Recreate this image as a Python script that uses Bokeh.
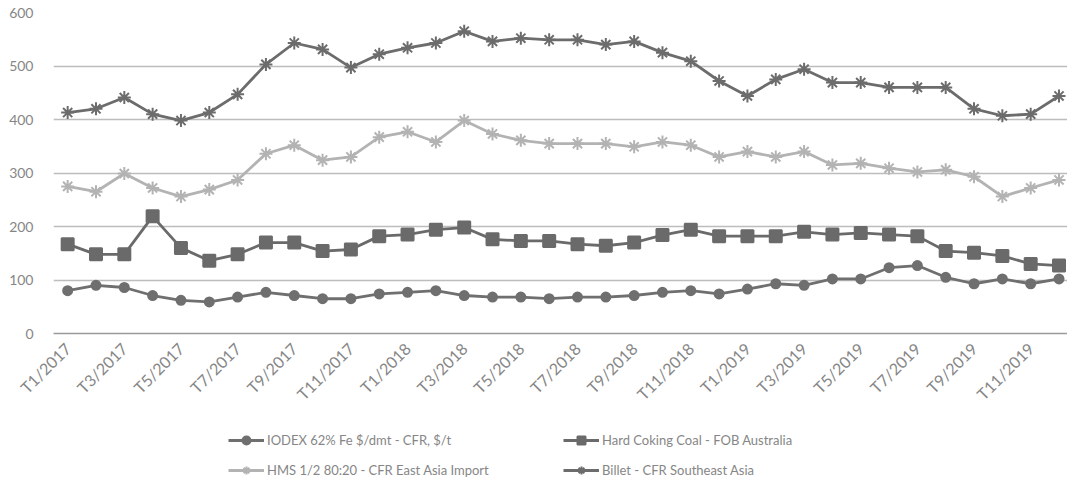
import math
from bokeh.plotting import figure
from bokeh.layouts import column
from bokeh.models import Range1d, FixedTicker, Legend, LegendItem
from bokeh.embed import file_html
from bokeh.resources import INLINE

categories = [
    "T1/2017", "T2/2017", "T3/2017", "T4/2017", "T5/2017", "T6/2017",
    "T7/2017", "T8/2017", "T9/2017", "T10/2017", "T11/2017", "T12/2017",
    "T1/2018", "T2/2018", "T3/2018", "T4/2018", "T5/2018", "T6/2018",
    "T7/2018", "T8/2018", "T9/2018", "T10/2018", "T11/2018", "T12/2018",
    "T1/2019", "T2/2019", "T3/2019", "T4/2019", "T5/2019", "T6/2019",
    "T7/2019", "T8/2019", "T9/2019", "T10/2019", "T11/2019", "T12/2019",
]
tick_labels = {0: "T1/2017", 2: "T3/2017", 4: "T5/2017", 6: "T7/2017", 8: "T9/2017",
               10: "T11/2017", 12: "T1/2018", 14: "T3/2018", 16: "T5/2018",
               18: "T7/2018", 20: "T9/2018", 22: "T11/2018", 24: "T1/2019",
               26: "T3/2019", 28: "T5/2019", 30: "T7/2019", 32: "T9/2019",
               34: "T11/2019"}

iodex = [80, 90, 86, 71, 62, 59, 68, 77, 71, 65, 65, 74,
         77, 80, 71, 68, 68, 65, 68, 68, 71, 77, 80, 74,
         83, 93, 90, 102, 102, 123, 127, 105, 93, 102, 93, 102]
coking_coal = [167, 148, 148, 219, 160, 136, 148, 170, 170, 154, 157, 182,
               185, 194, 198, 176, 173, 173, 167, 164, 170, 184, 194, 182,
               182, 182, 190, 185, 188, 185, 182, 154, 151, 145, 130, 127]
hms = [275, 265, 299, 272, 256, 269, 287, 336, 352, 324, 330, 367,
       377, 358, 398, 373, 361, 355, 355, 355, 349, 358, 352, 330,
       340, 330, 340, 315, 318, 309, 302, 306, 293, 256, 272, 287]
billet = [413, 420, 441, 410, 398, 413, 447, 503, 543, 531, 497, 522,
          534, 543, 565, 546, 552, 549, 549, 540, 546, 525, 509, 472,
          444, 475, 494, 469, 469, 460, 460, 460, 420, 407, 410, 444]

series_names = ["IODEX 62% Fe $/dmt - CFR, $/t", "Hard Coking Coal - FOB Australia",
                "HMS 1/2 80:20 - CFR East Asia Import", "Billet - CFR Southeast Asia"]

x = list(range(len(categories)))
FONT = "Lato"
TXT = "#868686"
W = 1067

p = figure(width=W, height=413, output_backend="svg", toolbar_location=None,
           x_range=Range1d(-0.5, 35.3), y_range=Range1d(0, 600),
           min_border_left=53, min_border_right=0, min_border_top=12,
           min_border_bottom=76)
p.outline_line_color = None
p.background_fill_color = "white"
p.border_fill_color = "white"

p.xgrid.visible = False
p.ygrid.grid_line_color = "#bdbdbd"
p.ygrid.grid_line_width = 1.5
p.yaxis.ticker = FixedTicker(ticks=[0, 100, 200, 300, 400, 500, 600])
p.yaxis.axis_line_color = None
p.yaxis.major_tick_line_color = None
p.yaxis.minor_tick_line_color = None
p.yaxis.major_label_standoff = 14
p.yaxis.major_label_text_font = FONT
p.yaxis.major_label_text_font_size = "14px"
p.yaxis.major_label_text_color = TXT

p.xaxis.ticker = FixedTicker(ticks=sorted(tick_labels.keys()))
p.xaxis.major_label_overrides = tick_labels
p.xaxis.major_label_orientation = math.pi / 4
p.xaxis.axis_line_color = "#9a9a9a"
p.xaxis.axis_line_width = 1.5
p.xaxis.major_tick_line_color = None
p.xaxis.minor_tick_line_color = None
p.xaxis.major_label_standoff = 6
p.xaxis.major_label_text_font = FONT
p.xaxis.major_label_text_font_size = "16px"
p.xaxis.major_label_text_color = TXT

c_iodex = "#6f6f6f"
c_coal = "#6a6a6a"
c_hms = "#b3b3b3"
c_billet = "#6c6c6c"

styles = [
    dict(color=c_iodex, marker="circle", size=9),
    dict(color=c_coal, marker="square", size=12),
    dict(color=c_hms, marker="asterisk", size=13),
    dict(color=c_billet, marker="asterisk", size=13),
]
series = [iodex, coking_coal, hms, billet]

for vals, st in zip(series, styles):
    p.line(x, vals, line_color=st["color"], line_width=2.8)
    p.scatter(x, vals, marker=st["marker"], size=st["size"], fill_color=st["color"],
              line_color=st["color"], line_width=2)

# legend strip below the chart (its renderers hold the series but lie outside its view)
lf = figure(width=W, height=67, output_backend="svg", toolbar_location=None,
            x_range=Range1d(0, 1), y_range=Range1d(-2, -1),
            min_border_left=0, min_border_right=0, min_border_top=0,
            min_border_bottom=0)
lf.axis.visible = False
lf.grid.visible = False
lf.outline_line_color = None
lf.background_fill_color = "white"
lf.border_fill_color = "white"

items = []
for name, vals, st in zip(series_names, series, styles):
    rl = lf.line(x, vals, line_color=st["color"], line_width=2.8)
    rm = lf.scatter(x, vals, marker=st["marker"], size=st["size"], fill_color=st["color"],
                    line_color=st["color"], line_width=2)
    items.append(LegendItem(label=name, renderers=[rl, rm]))

legend = Legend(
    items=items, location=(175, 0), orientation="horizontal", ncols=2,
    padding=0, margin=0, spacing=10,
    border_line_color=None, background_fill_alpha=0,
    label_text_font=FONT, label_text_font_size="13px",
    label_text_color=TXT, glyph_width=36, glyph_height=20,
    label_height=20, label_width=286, label_standoff=3)
lf.add_layout(legend)

layout = column(p, lf, spacing=0)
open("out.html", "w").write(file_html(layout, INLINE))
